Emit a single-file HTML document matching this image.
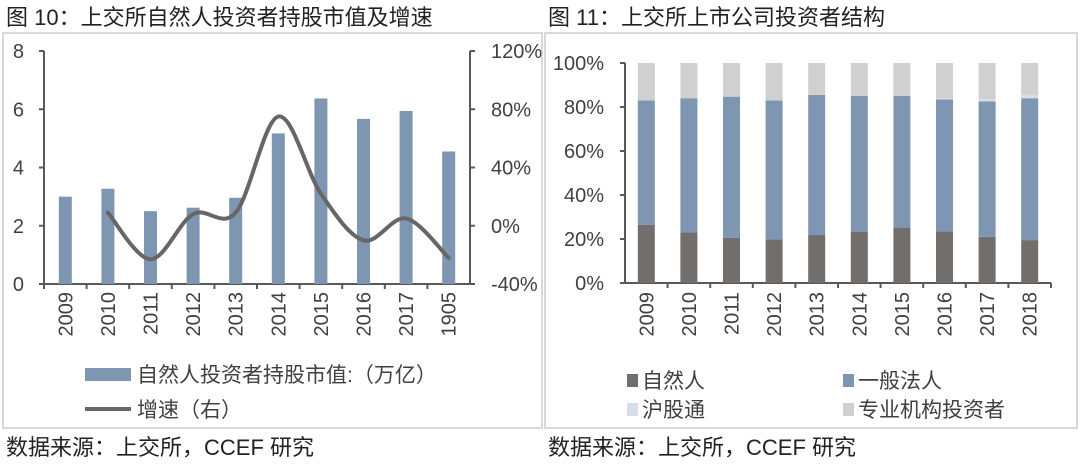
<!DOCTYPE html>
<html><head><meta charset="utf-8"><style>
body{margin:0;width:1080px;height:462px;background:#fff;overflow:hidden;font-family:"Liberation Sans","Noto Sans CJK SC",sans-serif;}
svg text{font-family:"Liberation Sans","Noto Sans CJK SC",sans-serif;fill:#404040;}
</style></head><body>
<svg id="s" width="1080" height="462">
<text x="6" y="25" font-size="22" style="fill:#222">图 10：上交所自然人投资者持股市值及增速</text>
<text x="548" y="25" font-size="22" style="fill:#222">图 11：上交所上市公司投资者结构</text>
<rect x="3" y="33" width="539" height="395" fill="none" stroke="#d9d9d9" stroke-width="2"/>
<rect x="545" y="33" width="532" height="395" fill="none" stroke="#d9d9d9" stroke-width="2"/>
<g id="L"></g><g id="R"></g>
<rect x="85" y="368" width="46" height="13" fill="#7f96b2"/>
<text x="137" y="382" font-size="21">自然人投资者持股市值:（万亿）</text>
<line x1="85" y1="409" x2="131" y2="409" stroke="#666" stroke-width="4"/>
<text x="137" y="417" font-size="21">增速（右）</text>
<rect x="627" y="374" width="11" height="13" fill="#726e6c"/>
<text x="642" y="388" font-size="21">自然人</text>
<rect x="843" y="374" width="11" height="13" fill="#7f96b2"/>
<text x="858" y="388" font-size="21">一般法人</text>
<rect x="627" y="403" width="11" height="13" fill="#d6dee8"/>
<text x="642" y="417" font-size="21">沪股通</text>
<rect x="843" y="403" width="11" height="13" fill="#d0d0d0"/>
<text x="858" y="417" font-size="21">专业机构投资者</text>
<text x="6" y="455" font-size="22" style="fill:#222">数据来源：上交所，CCEF 研究</text>
<text x="548" y="455" font-size="22" style="fill:#222">数据来源：上交所，CCEF 研究</text>
</svg>
<script>
const leftCats=["2009","2010","2011","2012","2013","2014","2015","2016","2017","1905"];
const barVals=[3.0,3.27,2.5,2.62,2.96,5.17,6.37,5.67,5.94,4.55];
const growthVals=[null,9,-23,8,9,75,22,-10,5,-22];
const leftTicks=[0,2,4,6,8];
const rightTicks=[-40,0,40,80,120];
const rCats=["2009","2010","2011","2012","2013","2014","2015","2016","2017","2018"];
const natural=[26.5,23,20.5,19.8,21.8,23.2,25,23.5,21,19.5];
const general=[56.5,61,64.2,63.2,63.7,61.8,60,60,61.5,64.5];
const hk=[0,0,0,0,0,0,0,0.5,1,1.5];
const NS="http://www.w3.org/2000/svg";
function mk(p,t,a,txt){const e=document.createElementNS(NS,t);for(const k in a)e.setAttribute(k,a[k]);if(txt!=null)e.textContent=txt;p.appendChild(e);return e;}
// left chart
const L=document.getElementById('L');
const lx0=44,lx1=470,ly0=284,ly1=51,cw=(lx1-lx0)/leftCats.length;
const yL=v=>ly0-(v/8)*(ly0-ly1);
const yR=v=>ly0-((v+40)/160)*(ly0-ly1);
const xC=i=>lx0+cw*(i+0.5);
let a=mk(L,'line',{x1:lx0,y1:ly0,x2:lx1,y2:ly0,stroke:'#595959','stroke-width':2});

a=mk(L,'line',{x1:lx0,y1:ly1,x2:lx0,y2:ly0,stroke:'#595959','stroke-width':2});

a=mk(L,'line',{x1:lx1,y1:ly1,x2:lx1,y2:ly0,stroke:'#595959','stroke-width':2});

leftTicks.forEach(v=>{mk(L,'line',{x1:lx0-5,y1:yL(v),x2:lx0,y2:yL(v),stroke:'#595959','stroke-width':2});
 const t=mk(L,'text',{x:lx0-20,y:yL(v)+7,'font-size':20,'text-anchor':'end'},v);
 });
rightTicks.forEach(v=>{mk(L,'line',{x1:lx1,y1:yR(v),x2:lx1+5,y2:yR(v),stroke:'#595959','stroke-width':2});
 const t=mk(L,'text',{x:lx1+21,y:yR(v)+7,'font-size':20},v+'%');
 });
leftCats.forEach((c,i)=>{
 mk(L,'line',{x1:lx0+cw*i,y1:ly0,x2:lx0+cw*i,y2:ly0+5,stroke:'#595959','stroke-width':2});
 const b=mk(L,'rect',{x:xC(i)-6.5,y:yL(barVals[i]),width:13,height:ly0-yL(barVals[i]),fill:'#7f96b2'});
 
 const t=mk(L,'text',{x:0,y:0,'font-size':20,'text-anchor':'end',transform:`translate(${xC(i)+7},${ly0+8}) rotate(-90)`},c);
 
});
const pts=[];growthVals.forEach((v,i)=>{if(v!=null)pts.push([xC(i),yR(v)]);});
let d='M'+pts[0][0]+','+pts[0][1];
for(let i=0;i<pts.length-1;i++){const p0=pts[i-1]||pts[i],p1=pts[i],p2=pts[i+1],p3=pts[i+2]||p2;
 d+=` C${p1[0]+(p2[0]-p0[0])/6},${p1[1]+(p2[1]-p0[1])/6} ${p2[0]-(p3[0]-p1[0])/6},${p2[1]-(p3[1]-p1[1])/6} ${p2[0]},${p2[1]}`;}
const ln=mk(L,'path',{d:d,fill:'none',stroke:'#666','stroke-width':4,'stroke-linecap':'round'});

// right chart
const R=document.getElementById('R');
const rx0=625,rx1=1051,ry0=283,ry1=63,rw=(rx1-rx0)/rCats.length;
const yP=v=>ry0-(v/100)*(ry0-ry1);
a=mk(R,'line',{x1:rx0,y1:ry0,x2:rx1,y2:ry0,stroke:'#595959','stroke-width':2});

a=mk(R,'line',{x1:rx0,y1:ry1,x2:rx0,y2:ry0,stroke:'#595959','stroke-width':2});

[0,20,40,60,80,100].forEach(v=>{mk(R,'line',{x1:rx0-5,y1:yP(v),x2:rx0,y2:yP(v),stroke:'#595959','stroke-width':2});
 const t=mk(R,'text',{x:rx0-21,y:yP(v)+7,'font-size':20,'text-anchor':'end'},v+'%');
 });
rCats.forEach((c,i)=>{
 const cx=rx0+rw*(i+0.5);
 mk(R,'line',{x1:rx0+rw*(i+1),y1:ry0,x2:rx0+rw*(i+1),y2:ry0+5,stroke:'#595959','stroke-width':2});
 const segs=[[natural[i],'#726e6c','natural'],[general[i],'#7f96b2','general'],[hk[i],'#d6dee8','hk'],[100-natural[i]-general[i]-hk[i],'#d0d0d0','pro']];
 let acc=0;segs.forEach(s=>{const r=mk(R,'rect',{x:cx-8.5,y:yP(acc+s[0]),width:17,height:yP(acc)-yP(acc+s[0]),fill:s[1]});
  acc+=s[0];});
 const t=mk(R,'text',{x:0,y:0,'font-size':20,'text-anchor':'end',transform:`translate(${cx+7},${ry0+9}) rotate(-90)`},c);
 
});
</script>
</body></html>
